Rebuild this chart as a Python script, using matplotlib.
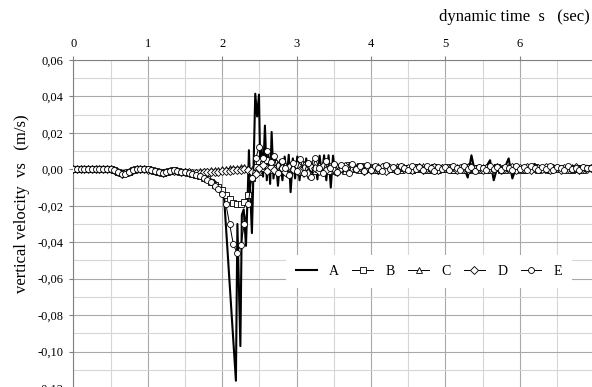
import matplotlib
matplotlib.use('Agg')
import matplotlib.pyplot as plt
import numpy as np
from matplotlib.ticker import MultipleLocator, FuncFormatter

plt.rcParams['font.family'] = ['Liberation Serif', 'DejaVu Serif']

# sampling of the marker series B-E: one value every 0.05 s (rows = 0.5 s)
dt = 0.05

B_mm = [
    0, 0, 0, 0, 0, 0, 0, 0, 0, 0.2,
    0.2, -0.5, -1.5, -2.2, -2.2, -1.5, -0.5, 0, 0, 0,
    0, -0.3, -0.8, -1.5, -1.8, -1.5, -0.8, -0.6, -0.9, -1.3,
    -1.6, -2.0, -2.5, -3.0, -3.6, -4.5, -5.5, -7.0, -8.5, -9.8,
    -11.5, -14.0, -16.5, -18.3, -19.0, -19.0, -18.0, -14.0, -5.0, 1.5,
    4.5, 3.0, 5.0, 2.0, 3.5, -0.5, 2.5, 1.0, -1.5, 2.5,
    0.5, 3.0, -1.0, 2.0, 0.0, 3.5, -0.5, 1.5, 2.5, -1.0,
    2.0, 0.5, 1.5, -0.5, 2.5, 0.0, 1.0, 2.0, -0.5, 1.5,
    0.5, 1.5, -0.5, 1.0, 2.0, 0.0, 1.0, -0.5, 1.5, 0.5,
    1.0, -0.5, 1.5, 0.0, 1.0, 0.5, -0.5, 1.5, 0.0, 1.0,
    0.5, 1.5, -0.5, 1.0, 0.0, 1.5, 0.5, -0.5, 1.0, 0.5,
    1.0, -0.5, 1.0, 0.5, 1.5, -0.5, 0.5, 1.0, 0.0, 1.0,
    0.5, -0.5, 1.0, 0.5, 1.5, 0.0, 0.5, 1.0, -0.5, 1.0,
    0.5, 1.0, 0.0, 1.0, -0.5, 0.5, 1.0, 0.0, 1.0, 0.5,
]

C_mm = [
    0, 0, 0, 0, 0, 0, 0, 0, 0, 0.3,
    0.3, -0.3, -1.2, -2.0, -2.1, -1.5, -0.6, 0, 0.1, 0.1,
    0, -0.2, -0.7, -1.3, -1.7, -1.4, -0.8, -0.5, -0.7, -1.0,
    -1.1, -1.2, -1.2, -1.2, -1.1, -1.0, -0.8, -0.6, -0.4, -0.2,
    0.0, 0.2, 0.5, 0.8, 1.0, 1.2, 1.3, 1.0, 0.2, -0.8,
    -1.5, 0.5, 2.0, -0.5, 1.5, 3.0, 0.0, 2.5, -1.0, 2.0,
    1.0, -1.5, 3.0, 0.5, 2.0, -1.0, 2.5, 0.0, 3.0, 0.5,
    -0.5, 2.0, 1.0, -1.0, 2.5, 0.5, 1.5, -0.5, 2.0, 0.0,
    1.5, -0.5, 2.0, 0.5, -0.5, 1.5, 0.0, 2.0, -0.5, 1.0,
    0.5, -0.5, 1.5, 0.0, 2.0, -0.5, 1.0, 0.5, -0.5, 1.5,
    0.0, 1.0, -0.5, 1.5, 0.5, -0.5, 2.0, 0.0, 1.0, -0.5,
    1.5, 0.0, -0.5, 1.5, 0.5, 1.0, -0.5, 2.0, 0.0, 0.5,
    -0.5, 1.5, 0.5, 0.0, 1.5, -0.5, 1.0, 0.5, -0.5, 1.5,
    0.0, 1.0, 0.5, -0.5, 1.5, 0.0, 1.0, -0.5, 1.0, 0.5,
]

D_mm = [
    0, 0, 0, 0, 0, 0, 0, 0, 0.1, 0.2,
    0.1, -0.6, -1.6, -2.3, -2.2, -1.4, -0.5, 0, 0, 0,
    -0.1, -0.4, -1.0, -1.6, -1.9, -1.6, -1.0, -0.7, -0.9, -1.3,
    -1.5, -1.7, -1.8, -1.8, -1.8, -1.7, -1.6, -1.5, -1.3, -1.2,
    -1.0, -0.9, -0.7, -0.5, -0.3, -0.1, 0.0, -0.5, -1.5, -2.5,
    0.5, 2.5, -1.0, 1.5, -0.5, 2.0, 1.0, -1.5, 1.5, 0.0,
    2.5, -0.5, 1.0, -2.0, 1.5, 0.5, -1.0, 2.0, -0.5, 1.5,
    0.0, -1.5, 1.0, 2.0, -1.0, 1.0, 0.0, 1.5, -1.0, 1.0,
    -0.5, 1.0, 0.0, 1.5, -1.0, 1.0, 0.5, -0.5, 1.5, 0.0,
    1.0, -0.5, 0.5, 1.5, -0.5, 1.0, 0.0, 1.5, -0.5, 0.5,
    1.0, 0.0, 1.5, -0.5, 1.0, 0.5, -0.5, 1.5, 0.0, 1.0,
    -0.5, 1.0, 0.5, 0.0, 1.5, -0.5, 1.0, 0.0, 1.5, -0.5,
    1.0, 0.0, 1.5, -0.5, 1.0, 0.5, 0.0, 1.5, -0.5, 1.0,
    0.5, -0.5, 1.0, 0.5, 0.0, 1.5, -0.5, 1.0, 0.0, 0.5,
]

E_mm = [
    0, 0, 0, 0, 0, 0, 0, 0, 0, 0.3,
    0.2, -0.4, -1.4, -2.3, -2.4, -1.6, -0.6, 0, 0.1, 0,
    0, -0.4, -0.9, -1.6, -1.9, -1.6, -0.9, -0.6, -1.0, -1.4,
    -1.7, -2.1, -2.6, -3.1, -3.8, -4.6, -5.8, -7.2, -9.0, -11.0,
    -13.5, -19.0, -30.0, -41.0, -46.0, -41.5, -30.0, -19.0, -4.5, 6.0,
    12.5, 6.0, 10.0, 4.0, 7.5, -2.0, 4.5, 1.0, -3.0, 3.5,
    -1.0, 5.5, -2.0, 3.5, -4.0, 6.0, 1.0, -2.0, 4.5, 0.5,
    3.0, -1.5, 2.5, 0.5, -2.0, 3.0, 0.0, 2.0, -1.0, 2.5,
    -0.5, 2.0, 0.5, -1.0, 2.5, 0.0, 1.5, -1.0, 2.0, 0.5,
    -0.5, 2.0, 0.0, 1.5, -0.5, 2.0, 0.5, -1.0, 1.5, 0.0,
    1.5, -0.5, 2.0, 0.5, -0.5, 2.0, 0.0, 1.5, -1.0, 1.5,
    0.5, -0.5, 2.0, 0.0, 1.5, -0.5, 1.5, 0.5, -0.5, 2.0,
    0.0, 1.5, -0.5, 2.0, 0.5, -0.5, 1.5, 0.0, 2.0, -0.5,
    1.5, 0.5, -0.5, 2.0, 0.0, 1.0, -0.5, 1.5, 0.5, 1.0,
]

# series A (solid line) has its own, uneven sample times
A_t_early = [0.0, 0.1, 0.2, 0.3, 0.4, 0.5, 0.6, 0.7, 0.8, 0.9,
             1.0, 1.1, 1.2, 1.3, 1.4, 1.5, 1.6, 1.7, 1.8, 1.9]
A_mm_early = [0, 0, 0, 0, 0.2, 0.1, -1.5, -2.0, -0.8, 0,
              0, -0.6, -1.7, -1.0, -0.9, -1.4, -2.0, -3.0, -4.5, -6.5]

A_t_mid = [1.95, 2.02, 2.185, 2.205, 2.245, 2.265, 2.29, 2.32, 2.345, 2.36,
           2.38, 2.40, 2.42, 2.445, 2.47, 2.495, 2.51, 2.53, 2.55, 2.575,
           2.60, 2.62, 2.645, 2.665, 2.69, 2.72, 2.75, 2.78, 2.81, 2.84,
           2.87, 2.895, 2.92, 2.95, 2.98, 3.01, 3.04, 3.07, 3.10, 3.13,
           3.16, 3.19, 3.22, 3.25, 3.28, 3.31, 3.34, 3.37, 3.40, 3.43,
           3.46, 3.49, 3.52, 3.55]
A_mm_mid = [-8.5, -11.5, -116.0, -30.0, -97.0, -25.0, -22.0, -42.0, -12.0, 10.5,
            -15.0, -35.0, -3.0, 41.5, 29.0, 41.0, 5.0, 12.0, -4.0, 24.0,
            -6.0, 8.0, -8.0, 20.5, -5.0, 6.0, -9.0, 5.0, -6.0, 7.0,
            -4.0, 8.0, -12.5, 6.0, -5.0, 7.0, -6.0, 5.0, -4.0, 6.0,
            -5.0, 4.0, -3.0, 5.0, -5.5, 7.5, -3.0, 7.7, -6.0, 7.7,
            -10.0, 7.5, -3.0, 2.0]

# late part of A, every 0.05 s from 3.60 s
A_mm_late = [
    1.0, -1.5, 2.0, -1.0, 1.5, 3.0, -2.0, 1.0, -1.5, 2.0,
    -2.5, 1.0, -1.0, 1.5, -1.0, 1.0, -1.5, 1.5, -0.5, 1.0,
    -1.0, 1.5, -1.0, 1.0, -1.5, 1.0, -0.5, 1.5, -1.0, 1.0,
    -1.0, 1.5, -1.5, 1.0, -4.5, 7.7, -2.0, 1.5, -1.0, 1.5,
    5.0, -6.0, 1.5, -1.0, 1.0, 6.0, -5.0, 1.0, -1.0, 1.5,
    -1.0, 1.5, 3.0, -1.5, 1.0, -2.0, 1.5, -1.0, 1.0, -1.0,
    1.5, -1.0, 1.0, -1.5, 1.5, -1.0, 2.0, -0.5,
]

labels = ['A', 'B', 'C', 'D', 'E']

fs = 9
fig = plt.figure(figsize=(5.92, 3.87), dpi=100)
ax = fig.add_axes([73.3 / 592, -1 / 387, (592 - 73.3) / 592, 328 / 387])

# series A
tA = np.concatenate([A_t_early, A_t_mid,
                     np.round(3.60 + dt * np.arange(len(A_mm_late)), 3)])
vA = np.concatenate([A_mm_early, A_mm_mid, A_mm_late]) / 1000
ax.plot(tA, vA, color='black', lw=1.5, label='A', zorder=3)

markers = ['s', '^', 'D', 'o']
msizes = [4.0, 4.2, 3.8, 4.3]
for lab, vals, mk, ms in zip(labels[1:], [B_mm, C_mm, D_mm, E_mm], markers, msizes):
    v = np.array(vals) / 1000
    t = np.arange(len(v)) * dt
    ax.plot(t, v, color='black', lw=0.7, marker=mk, ms=ms, mfc='white',
            mec='black', mew=0.6, label=lab, zorder=4)

ax.set_xlim(0, 6.97)
ax.set_ylim(-0.12, 0.06)
ax.xaxis.set_major_locator(MultipleLocator(1))
ax.xaxis.set_minor_locator(MultipleLocator(0.5))
ax.yaxis.set_major_locator(MultipleLocator(0.02))
ax.yaxis.set_minor_locator(MultipleLocator(0.01))
ax.xaxis.tick_top()
ax.xaxis.set_major_formatter(FuncFormatter(lambda x, p: f'{x:.0f}'))
ax.yaxis.set_major_formatter(FuncFormatter(
    lambda y, p: ('0,00' if abs(y) < 1e-9 else f'{y:.2f}'.replace('.', ','))))
ax.tick_params(which='major', length=3, width=0.8, color='#808080',
               labelsize=fs, pad=4)
ax.tick_params(which='minor', length=0)
ax.grid(True, which='major', color='#a8a8a8', lw=0.8)
ax.grid(True, which='minor', color='#d6d6d6', lw=0.8)
ax.set_axisbelow(True)
for s in ['right', 'bottom']:
    ax.spines[s].set_visible(False)
for s in ['left', 'top']:
    ax.spines[s].set_color('#808080')
    ax.spines[s].set_linewidth(0.8)

leg = ax.legend(ncol=5, loc='center', bbox_to_anchor=(0.686, 0.355),
                fontsize=10, frameon=True, fancybox=False, framealpha=1,
                edgecolor='white', handlelength=1.5, handletextpad=0.9,
                columnspacing=0.95, borderpad=0.7)
leg.get_frame().set_linewidth(0)
leg.set_zorder(10)

fig.text(590 / 592, 1 - 17 / 387, 'dynamic time  s   (sec)', ha='right',
         va='center', fontsize=12)
fig.text(22 / 592, 1 - 204 / 387, 'vertical velocity  vs   (m/s)',
         rotation=90, ha='center', va='center', fontsize=12)

plt.savefig('out.png', dpi=100)
